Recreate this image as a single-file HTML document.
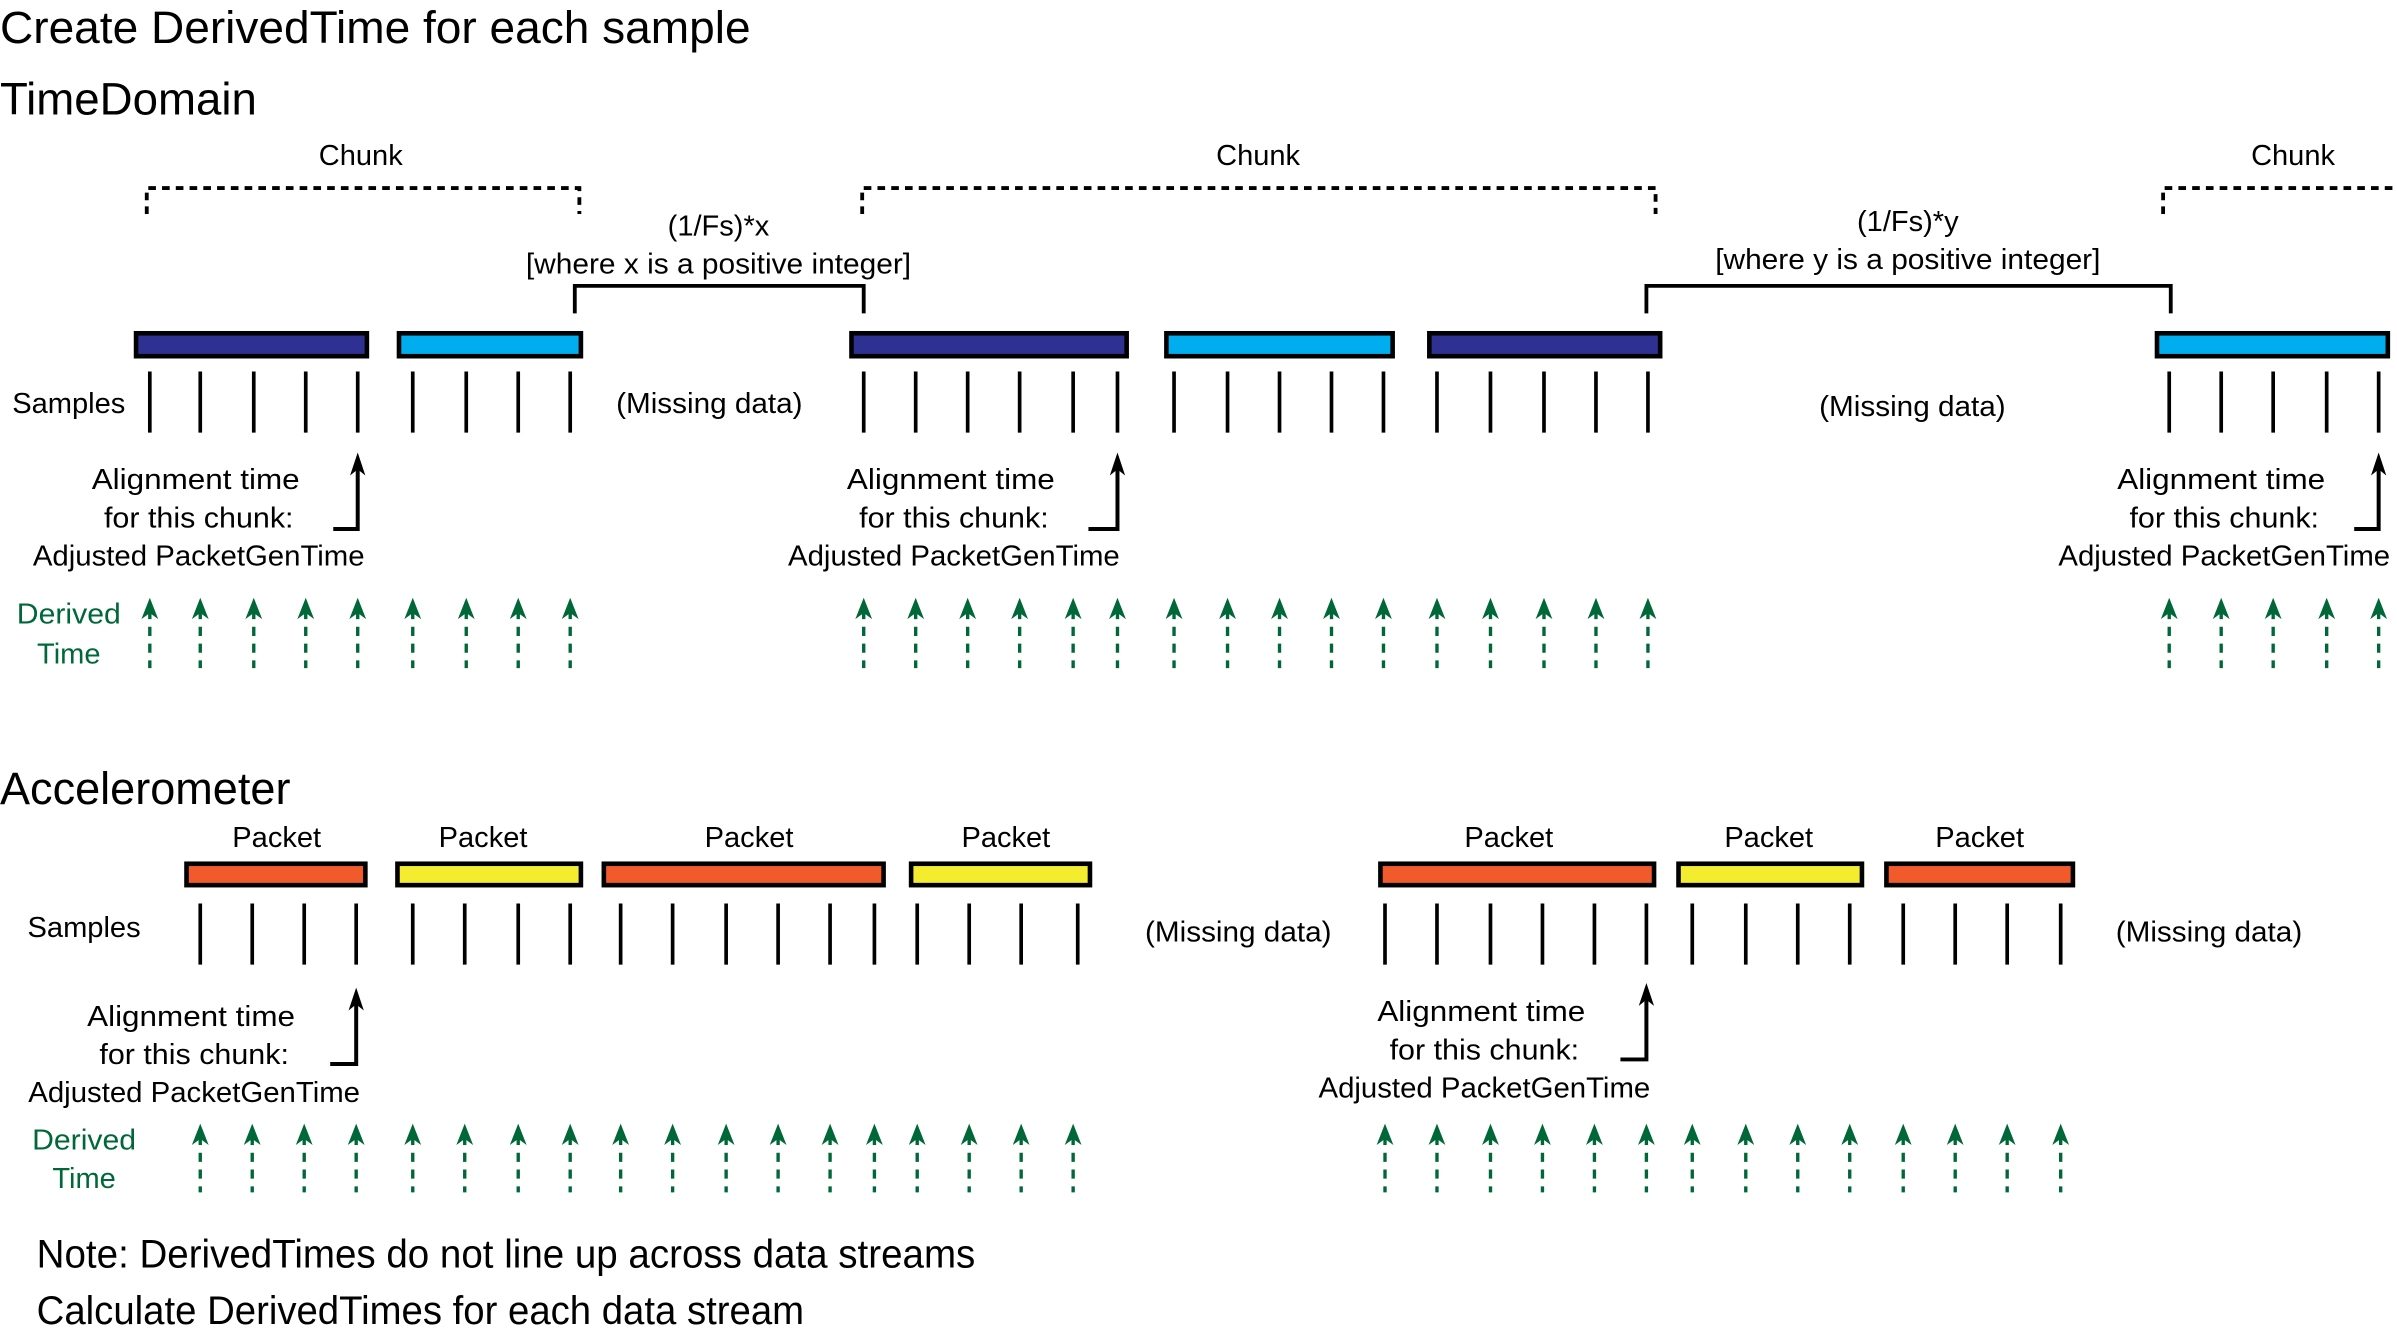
<!DOCTYPE html>
<html><head><meta charset="utf-8"><style>
html,body{margin:0;padding:0;background:#fff;}
svg{display:block;}
text{font-family:"Liberation Sans",sans-serif;fill:#000;}
</style></head><body>
<svg width="2397" height="1334" viewBox="0 0 1568 872.6" preserveAspectRatio="none" xmlns="http://www.w3.org/2000/svg">
<defs>
<g id="ga"><path d="M0,0 L5.5,14 L0,10 L-5.5,14 Z" fill="#006838"/><line x1="0" y1="8" x2="0" y2="14" stroke="#006838" stroke-width="2.2"/><line x1="0" y1="19" x2="0" y2="46" stroke="#006838" stroke-width="2.2" stroke-dasharray="6,5"/></g>
<g id="gb"><path d="M0,0 L5.5,14 L0,10 L-5.5,14 Z" fill="#006838"/><line x1="0" y1="8" x2="0" y2="14" stroke="#006838" stroke-width="2.2"/><line x1="0" y1="19" x2="0" y2="45" stroke="#006838" stroke-width="2.2" stroke-dasharray="6,5"/></g>
<g id="sa"><line x1="0" y1="0" x2="0" y2="40" stroke="#000" stroke-width="2.4"/></g>
</defs>

<text x="0" y="28" font-size="30" textLength="491" lengthAdjust="spacingAndGlyphs">Create DerivedTime for each sample</text>
<text x="0" y="75" font-size="30" textLength="168" lengthAdjust="spacingAndGlyphs">TimeDomain</text>

<g font-size="19" text-anchor="middle">
<text x="236" y="108">Chunk</text>
<text x="823" y="108">Chunk</text>
<text x="1500" y="108">Chunk</text>
<text x="470" y="154">(1/Fs)*x</text>
<text x="470" y="179" textLength="252" lengthAdjust="spacingAndGlyphs">[where x is a positive integer]</text>
<text x="1248" y="151">(1/Fs)*y</text>
<text x="1248" y="176" textLength="252" lengthAdjust="spacingAndGlyphs">[where y is a positive integer]</text>
</g>

<g fill="none" stroke="#000" stroke-width="2.5" stroke-dasharray="5,4">
<path d="M96,140 V123 H379 V140"/>
<path d="M564,140 V123 H1083 V140"/>
<path d="M1415,140 V123 H1568"/>
</g>
<g fill="none" stroke="#000" stroke-width="2.5">
<path d="M376,205 V187 H565 V205"/>
<path d="M1077,205 V187 H1420 V205"/>
</g>

<g stroke="#000" stroke-width="3">
<rect x="89" y="218" width="151" height="15" fill="#2e3192"/>
<rect x="261" y="218" width="119" height="15" fill="#00aeef"/>
<rect x="557" y="218" width="180" height="15" fill="#2e3192"/>
<rect x="763" y="218" width="148" height="15" fill="#00aeef"/>
<rect x="935" y="218" width="151" height="15" fill="#2e3192"/>
<rect x="1411" y="218" width="151" height="15" fill="#00aeef"/>
</g>

<g>
<use href="#sa" x="98" y="243"/><use href="#sa" x="131" y="243"/><use href="#sa" x="166" y="243"/><use href="#sa" x="200" y="243"/><use href="#sa" x="234" y="243"/>
<use href="#sa" x="270" y="243"/><use href="#sa" x="305" y="243"/><use href="#sa" x="339" y="243"/><use href="#sa" x="373" y="243"/>
<use href="#sa" x="565" y="243"/><use href="#sa" x="599" y="243"/><use href="#sa" x="633" y="243"/><use href="#sa" x="667" y="243"/><use href="#sa" x="702" y="243"/><use href="#sa" x="731" y="243"/>
<use href="#sa" x="768" y="243"/><use href="#sa" x="803" y="243"/><use href="#sa" x="837" y="243"/><use href="#sa" x="871" y="243"/><use href="#sa" x="905" y="243"/>
<use href="#sa" x="940" y="243"/><use href="#sa" x="975" y="243"/><use href="#sa" x="1010" y="243"/><use href="#sa" x="1044" y="243"/><use href="#sa" x="1078" y="243"/>
<use href="#sa" x="1419" y="243"/><use href="#sa" x="1453" y="243"/><use href="#sa" x="1487" y="243"/><use href="#sa" x="1522" y="243"/><use href="#sa" x="1556" y="243"/>
</g>

<g font-size="19">
<text x="8" y="270" textLength="74" lengthAdjust="spacingAndGlyphs">Samples</text>
<text x="464" y="270" text-anchor="middle" textLength="122" lengthAdjust="spacingAndGlyphs">(Missing data)</text>
<text x="1251" y="272" text-anchor="middle" textLength="122" lengthAdjust="spacingAndGlyphs">(Missing data)</text>
</g>

<g font-size="19" text-anchor="middle">
<text x="128" y="320" textLength="136" lengthAdjust="spacingAndGlyphs">Alignment time</text>
<text x="130" y="345" textLength="124" lengthAdjust="spacingAndGlyphs">for this chunk:</text>
<text x="130" y="370" textLength="217" lengthAdjust="spacingAndGlyphs">Adjusted PacketGenTime</text>
<text x="622" y="320" textLength="136" lengthAdjust="spacingAndGlyphs">Alignment time</text>
<text x="624" y="345" textLength="124" lengthAdjust="spacingAndGlyphs">for this chunk:</text>
<text x="624" y="370" textLength="217" lengthAdjust="spacingAndGlyphs">Adjusted PacketGenTime</text>
<text x="1453" y="320" textLength="136" lengthAdjust="spacingAndGlyphs">Alignment time</text>
<text x="1455" y="345" textLength="124" lengthAdjust="spacingAndGlyphs">for this chunk:</text>
<text x="1455" y="370" textLength="217" lengthAdjust="spacingAndGlyphs">Adjusted PacketGenTime</text>
</g>
<g fill="none" stroke="#000" stroke-width="2.6">
<path d="M218,346 H234 V304"/>
<path d="M712,346 H731 V304"/>
<path d="M1540,346 H1556 V304"/>
</g>
<g fill="#000">
<path d="M234,296 L239,311 L234,307 L229,311 Z"/>
<path d="M731,296 L736,311 L731,307 L726,311 Z"/>
<path d="M1556,296 L1561,311 L1556,307 L1551,311 Z"/>
</g>

<g font-size="19" text-anchor="middle">
<text x="45" y="408" style="fill:#006838" textLength="68" lengthAdjust="spacingAndGlyphs">Derived</text>
<text x="45" y="434" style="fill:#006838">Time</text>
</g>
<g>
<use href="#ga" x="98" y="391"/><use href="#ga" x="131" y="391"/><use href="#ga" x="166" y="391"/><use href="#ga" x="200" y="391"/><use href="#ga" x="234" y="391"/>
<use href="#ga" x="270" y="391"/><use href="#ga" x="305" y="391"/><use href="#ga" x="339" y="391"/><use href="#ga" x="373" y="391"/>
<use href="#ga" x="565" y="391"/><use href="#ga" x="599" y="391"/><use href="#ga" x="633" y="391"/><use href="#ga" x="667" y="391"/><use href="#ga" x="702" y="391"/><use href="#ga" x="731" y="391"/>
<use href="#ga" x="768" y="391"/><use href="#ga" x="803" y="391"/><use href="#ga" x="837" y="391"/><use href="#ga" x="871" y="391"/><use href="#ga" x="905" y="391"/>
<use href="#ga" x="940" y="391"/><use href="#ga" x="975" y="391"/><use href="#ga" x="1010" y="391"/><use href="#ga" x="1044" y="391"/><use href="#ga" x="1078" y="391"/>
<use href="#ga" x="1419" y="391"/><use href="#ga" x="1453" y="391"/><use href="#ga" x="1487" y="391"/><use href="#ga" x="1522" y="391"/><use href="#ga" x="1556" y="391"/>
</g>

<text x="0" y="526" font-size="30" textLength="190" lengthAdjust="spacingAndGlyphs">Accelerometer</text>

<g font-size="19" text-anchor="middle">
<text x="181" y="554">Packet</text>
<text x="316" y="554">Packet</text>
<text x="490" y="554">Packet</text>
<text x="658" y="554">Packet</text>
<text x="987" y="554">Packet</text>
<text x="1157" y="554">Packet</text>
<text x="1295" y="554">Packet</text>
</g>
<g stroke="#000" stroke-width="3">
<rect x="122" y="565" width="117" height="14" fill="#f15a2b"/>
<rect x="260" y="565" width="120" height="14" fill="#f4ec2e"/>
<rect x="395" y="565" width="183" height="14" fill="#f15a2b"/>
<rect x="596" y="565" width="117" height="14" fill="#f4ec2e"/>
<rect x="903" y="565" width="179" height="14" fill="#f15a2b"/>
<rect x="1098" y="565" width="120" height="14" fill="#f4ec2e"/>
<rect x="1234" y="565" width="122" height="14" fill="#f15a2b"/>
</g>
<g>
<use href="#sa" x="131" y="591"/><use href="#sa" x="165" y="591"/><use href="#sa" x="199" y="591"/><use href="#sa" x="233" y="591"/>
<use href="#sa" x="270" y="591"/><use href="#sa" x="304" y="591"/><use href="#sa" x="339" y="591"/><use href="#sa" x="373" y="591"/>
<use href="#sa" x="406" y="591"/><use href="#sa" x="440" y="591"/><use href="#sa" x="475" y="591"/><use href="#sa" x="509" y="591"/><use href="#sa" x="543" y="591"/><use href="#sa" x="572" y="591"/>
<use href="#sa" x="600" y="591"/><use href="#sa" x="634" y="591"/><use href="#sa" x="668" y="591"/><use href="#sa" x="705" y="591"/>
<use href="#sa" x="906" y="591"/><use href="#sa" x="940" y="591"/><use href="#sa" x="975" y="591"/><use href="#sa" x="1009" y="591"/><use href="#sa" x="1043" y="591"/><use href="#sa" x="1077" y="591"/>
<use href="#sa" x="1107" y="591"/><use href="#sa" x="1142" y="591"/><use href="#sa" x="1176" y="591"/><use href="#sa" x="1210" y="591"/>
<use href="#sa" x="1245" y="591"/><use href="#sa" x="1279" y="591"/><use href="#sa" x="1313" y="591"/><use href="#sa" x="1348" y="591"/>
</g>
<g font-size="19">
<text x="18" y="613" textLength="74" lengthAdjust="spacingAndGlyphs">Samples</text>
<text x="810" y="616" text-anchor="middle" textLength="122" lengthAdjust="spacingAndGlyphs">(Missing data)</text>
<text x="1445" y="616" text-anchor="middle" textLength="122" lengthAdjust="spacingAndGlyphs">(Missing data)</text>
</g>
<g font-size="19" text-anchor="middle">
<text x="125" y="671" textLength="136" lengthAdjust="spacingAndGlyphs">Alignment time</text>
<text x="127" y="696" textLength="124" lengthAdjust="spacingAndGlyphs">for this chunk:</text>
<text x="127" y="721" textLength="217" lengthAdjust="spacingAndGlyphs">Adjusted PacketGenTime</text>
<text x="969" y="668" textLength="136" lengthAdjust="spacingAndGlyphs">Alignment time</text>
<text x="971" y="693" textLength="124" lengthAdjust="spacingAndGlyphs">for this chunk:</text>
<text x="971" y="718" textLength="217" lengthAdjust="spacingAndGlyphs">Adjusted PacketGenTime</text>
</g>
<g fill="none" stroke="#000" stroke-width="2.6">
<path d="M216,696 H233 V654"/>
<path d="M1060,693 H1077 V651"/>
</g>
<g fill="#000">
<path d="M233,646 L238,661 L233,657 L228,661 Z"/>
<path d="M1077,643 L1082,658 L1077,654 L1072,658 Z"/>
</g>
<g font-size="19" text-anchor="middle">
<text x="55" y="752" style="fill:#006838" textLength="68" lengthAdjust="spacingAndGlyphs">Derived</text>
<text x="55" y="777" style="fill:#006838">Time</text>
</g>
<g>
<use href="#gb" x="131" y="735"/><use href="#gb" x="165" y="735"/><use href="#gb" x="199" y="735"/><use href="#gb" x="233" y="735"/>
<use href="#gb" x="270" y="735"/><use href="#gb" x="304" y="735"/><use href="#gb" x="339" y="735"/><use href="#gb" x="373" y="735"/>
<use href="#gb" x="406" y="735"/><use href="#gb" x="440" y="735"/><use href="#gb" x="475" y="735"/><use href="#gb" x="509" y="735"/><use href="#gb" x="543" y="735"/><use href="#gb" x="572" y="735"/>
<use href="#gb" x="600" y="735"/><use href="#gb" x="634" y="735"/><use href="#gb" x="668" y="735"/><use href="#gb" x="702" y="735"/>
<use href="#gb" x="906" y="735"/><use href="#gb" x="940" y="735"/><use href="#gb" x="975" y="735"/><use href="#gb" x="1009" y="735"/><use href="#gb" x="1043" y="735"/><use href="#gb" x="1077" y="735"/>
<use href="#gb" x="1107" y="735"/><use href="#gb" x="1142" y="735"/><use href="#gb" x="1176" y="735"/><use href="#gb" x="1210" y="735"/>
<use href="#gb" x="1245" y="735"/><use href="#gb" x="1279" y="735"/><use href="#gb" x="1313" y="735"/><use href="#gb" x="1348" y="735"/>
</g>

<text x="24" y="829" font-size="26" textLength="614" lengthAdjust="spacingAndGlyphs">Note: DerivedTimes do not line up across data streams</text>
<text x="24" y="866" font-size="26" textLength="502" lengthAdjust="spacingAndGlyphs">Calculate DerivedTimes for each data stream</text>
</svg>
</body></html>
